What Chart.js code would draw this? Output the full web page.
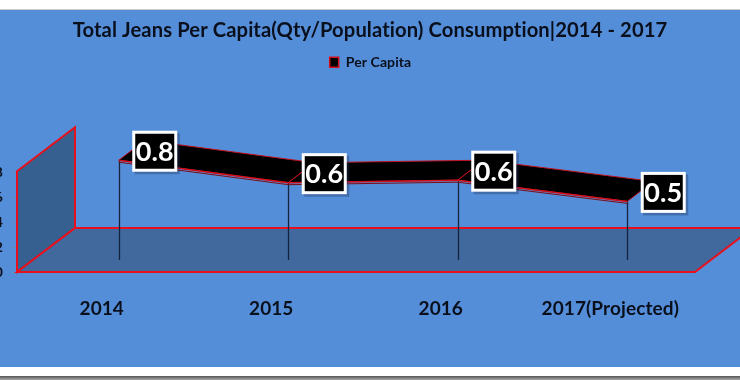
<!DOCTYPE html>
<html><head><meta charset="utf-8">
<script src="https://cdn.jsdelivr.net/npm/chart.js@4/dist/chart.umd.min.js"></script>
<style>
html,body{margin:0;padding:0;width:740px;height:380px;overflow:hidden;background:#fff}
#bg{position:absolute;left:0;top:9px;width:740px;height:358px;background:#558ed8;border-top:1px solid #c9c9c9;box-sizing:border-box}
#bot{position:absolute;left:0;top:376px;width:740px;height:4px;background:linear-gradient(#555,#aaa)}
#wrap{position:absolute;left:0;top:0;width:740px;height:380px}
</style></head><body>
<div id="bg"></div><div id="bot"></div>
<div id="wrap"><canvas id="c" width="740" height="380"></canvas></div>
<script>
const categories = ["2014","2015","2016","2017(Projected)"];
const perCapita = [0.8,0.62,0.64,0.47];
const yTicks = [0,0.2,0.4,0.6,0.8];
const titleText = "Total Jeans Per Capita(Qty/Population) Consumption|2014 - 2017";
const seriesName = "Per Capita";
const FONT = "Lato, Carlito, sans-serif";
const INK = "#0a0f1c", RED = "#e8101c";

const scene = {
  id:"scene",
  beforeDraw(chart){ chart.ctx.letterSpacing="0.1px"; },
  beforeDatasetsDraw(chart){
    const {ctx,chartArea:a} = chart;
    const dx=58, dy=-44;
    ctx.save();
    ctx.lineWidth=2; ctx.strokeStyle=RED; ctx.lineJoin="miter";
    ctx.fillStyle="#36608f";
    ctx.beginPath();
    ctx.moveTo(a.left,a.top-1);ctx.lineTo(a.left+dx,a.top-1+dy);ctx.lineTo(a.left+dx,a.bottom+dy);ctx.lineTo(a.left,a.bottom);ctx.closePath();
    ctx.fill();ctx.stroke();
    ctx.fillStyle="#41699d";
    ctx.beginPath();
    ctx.moveTo(a.left,a.bottom);ctx.lineTo(a.left+dx,a.bottom+dy);ctx.lineTo(a.right+dx,a.bottom+dy);ctx.lineTo(a.right,a.bottom);ctx.closePath();
    ctx.fill();ctx.stroke();
    ctx.restore();
    // series stands in the middle of the depth of the box
    ctx.save();
    ctx.translate(17,-12);
    const pts = chart.getDatasetMeta(0).data;
    const y0 = chart.scales.y.getPixelForValue(0);
    ctx.strokeStyle="#14233d";ctx.lineWidth=1.3;
    pts.forEach(p=>{ctx.beginPath();ctx.moveTo(Math.round(p.x)+.5,p.y);ctx.lineTo(Math.round(p.x)+.5,y0);ctx.stroke();});
    const rx=26, ry=-20;
    ctx.fillStyle="#000";ctx.strokeStyle="#c4101c";ctx.lineWidth=1;
    for(let i=0;i<pts.length-1;i++){
      const p=pts[i],q=pts[i+1];
      ctx.beginPath();ctx.moveTo(p.x,p.y);ctx.lineTo(p.x+rx,p.y+ry);ctx.lineTo(q.x+rx,q.y+ry);ctx.lineTo(q.x,q.y);ctx.closePath();
      ctx.fill();ctx.stroke();
    }
    // thin lower lip of the ribbon
    ctx.strokeStyle="#7a0d14";ctx.beginPath();
    pts.forEach((p,i)=>{i?ctx.lineTo(p.x,p.y+2):ctx.moveTo(p.x,p.y+2);});ctx.stroke();
    // leave the translation active for the library's own line
  },
  afterDatasetsDraw(chart){
    const {ctx}=chart;
    ctx.restore();
    ctx.save();
    ctx.translate(17,-12);
    const pts = chart.getDatasetMeta(0).data;
    ctx.font="700 27px "+FONT;ctx.textAlign="center";ctx.textBaseline="middle";
    pts.forEach((p,i)=>{
      const cx=p.x+36, cy=p.y-9, w=42, h=38;
      ctx.fillStyle="rgba(30,50,90,.35)";ctx.fillRect(cx-w/2+1,cy-h/2+1,w+3,h+3);
      ctx.fillStyle="#000";ctx.strokeStyle="#fff";ctx.lineWidth=3;
      ctx.fillRect(cx-w/2,cy-h/2,w,h);ctx.strokeRect(cx-w/2,cy-h/2,w,h);
      ctx.fillStyle="#fff";ctx.fillText(perCapita[i].toFixed(1),cx,cy+1);
    });
    ctx.restore();
  }
};

new Chart(document.getElementById("c"),{
  type:"line",
  data:{labels:categories,datasets:[{
    label:seriesName,data:perCapita,borderColor:"#d0101c",backgroundColor:"#000",
    borderWidth:1.5,pointRadius:0,tension:0,fill:false,clip:false,xAxisID:"x",yAxisID:"y"}]},
  plugins:[scene],
  options:{
    responsive:false,animation:false,
    layout:{padding:0},
    plugins:{
      title:{display:true,text:titleText,color:INK,font:{family:FONT,size:20.2,weight:"700",lineHeight:1.2},padding:{top:18,bottom:7}},
      legend:{display:true,position:"top",labels:{color:INK,font:{family:FONT,size:14,weight:"700"},boxWidth:9,boxHeight:10,padding:6}},
      tooltip:{enabled:false}
    },
    scales:{
      x:{type:"category",position:"bottom",offset:true,
        grid:{display:false},border:{display:false},
        ticks:{color:INK,font:{family:FONT,size:19,weight:"700"},padding:17,autoSkip:false,maxRotation:0},
        afterFit(s){s.height=108;}},
      spacer:{type:"category",axis:"x",position:"top",labels:[""],
        grid:{display:false},border:{display:false},ticks:{display:false},
        afterFit(s){s.height=93;}},
      spacerRight:{type:"linear",axis:"y",position:"right",
        grid:{display:false},border:{display:false},ticks:{display:false},
        afterFit(s){s.width=45;}},
      y:{type:"linear",position:"left",min:yTicks[0],max:yTicks[yTicks.length-1],
        grid:{drawOnChartArea:false,drawTicks:true,tickLength:5,tickColor:"#6b8fb8"},border:{display:false},
        afterBuildTicks(s){s.ticks=yTicks.map(v=>({value:v}));},
        ticks:{color:INK,font:{family:FONT,size:14,weight:"700"},padding:9,callback:v=>Number(v).toFixed(1)},
        afterFit(s){s.width=17;}}
    }
  }
});
</script>
</body></html>
